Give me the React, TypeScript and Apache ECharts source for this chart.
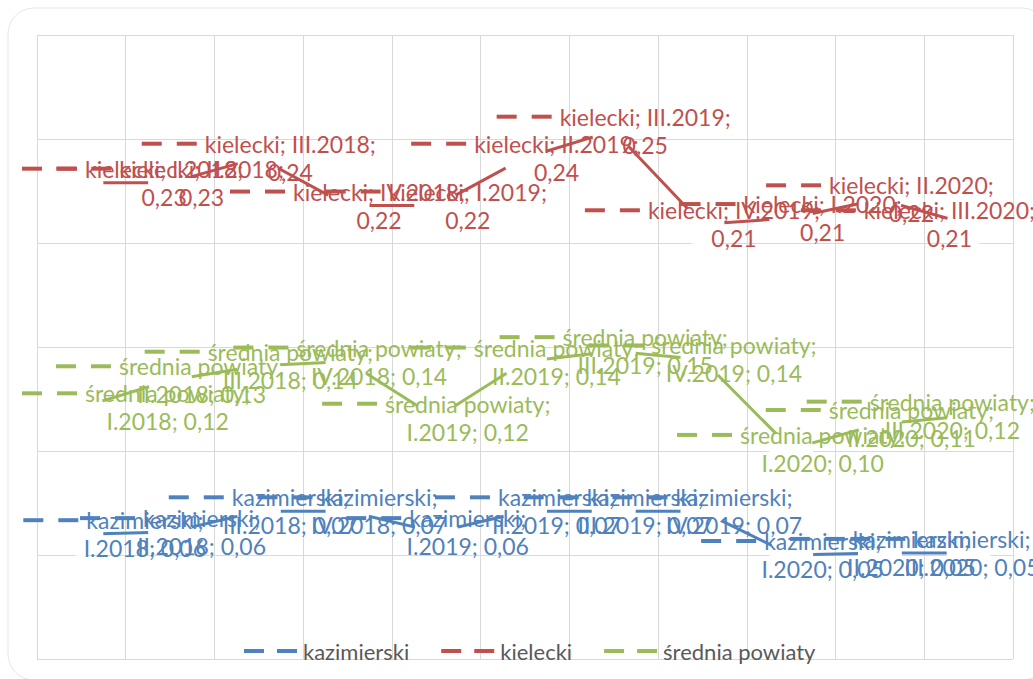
import React, { useEffect, useRef } from "react";
import * as echarts from "echarts";

const categories = ["I.2018", "II.2018", "III.2018", "IV.2018", "I.2019", "II.2019", "III.2019", "IV.2019", "I.2020", "II.2020", "III.2020"];
const kazimierski = [0.060, 0.061, 0.071, 0.071, 0.061, 0.071, 0.071, 0.071, 0.050, 0.051, 0.051];
const kielecki = [0.229, 0.229, 0.241, 0.218, 0.218, 0.241, 0.254, 0.209, 0.212, 0.221, 0.209];
const srednia = [0.121, 0.134, 0.141, 0.143, 0.116, 0.143, 0.148, 0.144, 0.101, 0.113, 0.117];
const seriesNames = ["kazimierski", "kielecki", "średnia powiaty"];
const seriesColors = ["#4F81BD", "#C0504D", "#9BBB59"];
const yTicks = { min: 0, max: 0.3, interval: 0.05 };

const FONT = "Lato, 'Noto Sans', sans-serif";
const fmt = (v: number) => v.toFixed(2).replace(".", ",");

function makeSeries(name: string, data: number[], color: string, nameOnFirstLine: boolean) {
  return {
    name,
    type: "line",
    data,
    symbol: "circle",
    symbolSize: 44,
    showSymbol: true,
    showAllSymbol: true,
    itemStyle: { color: "#ffffff", borderWidth: 0 },
    lineStyle: { color, width: 3 },
    emphasis: { disabled: true },
    label: {
      show: true,
      position: "inside",
      formatter: (p: any) => {
        const cat = categories[p.dataIndex];
        const v = fmt(p.value);
        return nameOnFirstLine
          ? `{d|}{g|}{d|}{s|}{t|${name}; ${cat};}\n{sp|}{t|${v}}`
          : `{d|}{g|}{d|}{s|}{t|${name};}\n{sp|}{t|${cat}; ${v}}`;
      },
      rich: {
        d: { width: 20, height: 4, backgroundColor: color, verticalAlign: "middle" },
        g: { width: 15, height: 4 },
        s: { width: 8, height: 4 },
        sp: { width: 63, height: 4 },
        t: { color, fontSize: 23, fontFamily: FONT, lineHeight: 28 },
      },
    },
  };
}

export default function App() {
  const ref = useRef<HTMLDivElement>(null);
  useEffect(() => {
    if (!ref.current) return;
    const chart = echarts.init(ref.current, null, { renderer: "svg" });
    const legendIcon = "path://M0,0h20v4h-20z M33,0h20v4h-20z";
    chart.setOption({
      animation: false,
      backgroundColor: "#ffffff",
      graphic: [
        {
          type: "rect",
          shape: { x: 8, y: 8, width: 1040, height: 672, r: 26 },
          style: { fill: "none", stroke: "#e6e6e6", lineWidth: 1 },
          silent: true,
          z: -1,
        },
      ],
      grid: { left: 37, top: 35, width: 976, height: 624, containLabel: false },
      xAxis: {
        type: "category",
        data: categories,
        boundaryGap: true,
        axisLine: { show: false },
        axisTick: { show: false },
        axisLabel: { show: false },
        splitLine: { show: true, lineStyle: { color: "#d9d9d9", width: 1 } },
      },
      yAxis: {
        type: "value",
        min: yTicks.min,
        max: yTicks.max,
        interval: yTicks.interval,
        axisLine: { show: false },
        axisTick: { show: false },
        axisLabel: { show: false },
        splitLine: { show: true, lineStyle: { color: "#d9d9d9", width: 1 } },
      },
      legend: {
        left: 239,
        top: 635,
        itemWidth: 55,
        itemHeight: 4,
        itemGap: 32,
        textStyle: { color: "#595959", fontSize: 22, fontFamily: FONT },
        data: seriesNames.map((n, i) => ({
          name: n,
          icon: legendIcon,
          itemStyle: { color: seriesColors[i], borderWidth: 0 },
        })),
      },
      labelLayout: (params: any) => {
        const r = params.labelRect;
        const cy = r.y + r.height / 2;
        if (r.x < 22) {
          return { x: 22 + r.width / 2, y: cy, align: "center", verticalAlign: "middle" };
        }
        if (r.x + r.width > 1035) {
          return { x: 1035 - r.width / 2, y: cy, align: "center", verticalAlign: "middle" };
        }
        return {};
      },
      series: [
        makeSeries(seriesNames[0], kazimierski, seriesColors[0], false),
        makeSeries(seriesNames[1], kielecki, seriesColors[1], true),
        makeSeries(seriesNames[2], srednia, seriesColors[2], false),
      ],
    });
    return () => chart.dispose();
  }, []);
  return (
    <div
      ref={ref}
      style={{ position: "absolute", left: 0, top: 0, width: 1033, height: 679 }}
    />
  );
}
